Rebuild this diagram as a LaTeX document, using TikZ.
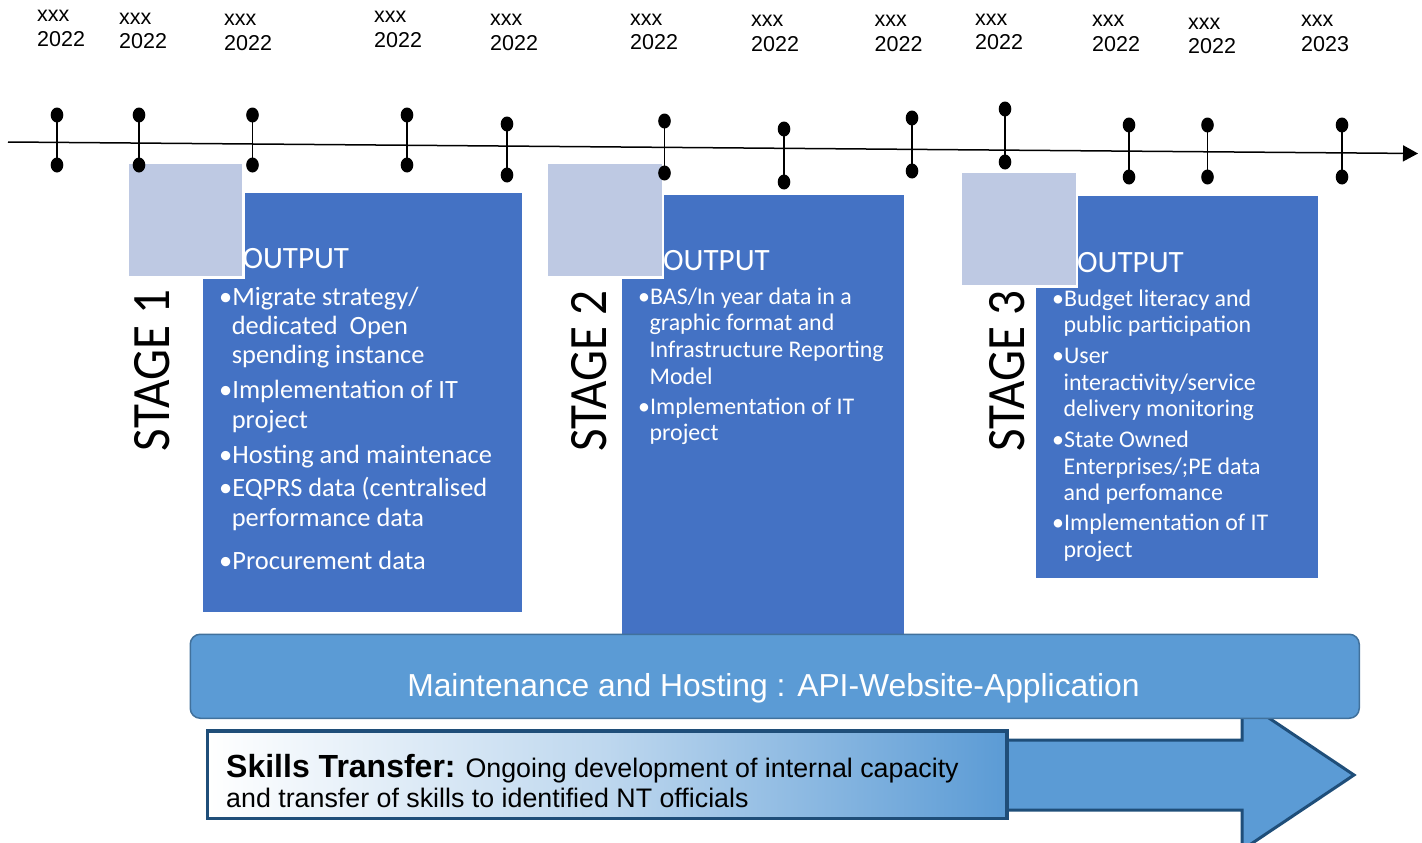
\documentclass[tikz,border=0pt]{standalone}
\usepackage{fontspec}
\setmainfont{Carlito}
\newfontfamily\arialfont{Liberation Sans}
\usetikzlibrary{arrows.meta}

\definecolor{outblue}{RGB}{68,114,196}
\definecolor{stagegrey}{RGB}{190,201,227}
\definecolor{hostblue}{RGB}{91,155,213}
\definecolor{hostedge}{RGB}{65,113,156}
\definecolor{skilledge}{RGB}{31,78,121}

% bullet and hanging indent for the output lists
\newcommand{\itm}{\makebox[0.5em][l]{•}}
\newcommand{\cnt}{\hspace*{0.48em}}

\tikzset{
  outbox/.style={fill=outblue, inner sep=0, anchor=north west},
  stagesq/.style={fill=stagegrey, draw=white, line width=2.7, minimum width=116, minimum height=115, inner sep=0, anchor=north west},
  stagelbl/.style={rotate=90, xscale=0.91, inner sep=0, font=\fontsize{54}{54}\selectfont},
  outtitle/.style={anchor=base west, inner sep=0, text=white, font=\fontsize{31}{31}\selectfont},
  outlist/.style={anchor=base west, inner sep=0, text=white},
  datelbl/.style={anchor=south west, inner sep=0, align=left, font=\arialfont\fontsize{21.5}{24.5}\selectfont},
  tickdot/.style={fill=black},
  hostbar/.style={anchor=north west, minimum width=1169, minimum height=84, rounded corners=10, fill=hostblue, draw=hostedge, line width=1.5},
  hostlbl/.style={anchor=base, inner sep=0, text=white, font=\arialfont\fontsize{31.8}{31.8}\selectfont},
  skillbox/.style={anchor=north west, minimum width=799.5, minimum height=87.5, inner sep=0, draw=skilledge, line width=3.5, left color=white, right color=hostblue, middle color=hostblue!40},
  skilltext/.style={anchor=base west, inner sep=0, font=\arialfont\fontsize{26.8}{30}\selectfont}
}

\begin{document}
\begin{tikzpicture}[x=1pt, y=-1pt]
  % \draw[help lines, color=gray!30, dashed] (0,0) grid (1422,843);
  \useasboundingbox (0,0) rectangle (1422,843);

  % output boxes
  \node[outbox, minimum width=319.5, minimum height=419] (out1) at (202.3,192.7) {};
  \node[outbox, minimum width=282, minimum height=441] (out2) at (622,194.3) {};
  \node[outbox, minimum width=282, minimum height=382] (out3) at (1036,196) {};

  \node[stagesq] (sq1) at (126,161.3) {};
  \node[stagesq] (sq2) at (545.7,161.3) {};
  \node[stagesq] (sq3) at (959.7,170.3) {};

  \node[stagelbl] (stage1) at (152.5,370.5) {STAGE 1};
  \node[stagelbl] (stage2) at (589,371) {STAGE 2};
  \node[stagelbl] (stage3) at (1007,371) {STAGE 3};

  \node[outtitle] (title1) at (242.3,268.3) {OUTPUT};
  \node[outtitle] (title2) at (663,270) {OUTPUT};
  \node[outtitle] (title3) at (1077,272.7) {OUTPUT};

  \node[outlist, font=\fontsize{26.4}{29.4}\selectfont] (list1) at (219,305) {%
    \begin{tabular}[t]{@{}l@{}}
      \itm Migrate strategy/\\
      \cnt dedicated\ \ Open\\
      \cnt spending instance\\[5.6pt]
      \itm Implementation of IT\\
      \cnt project\\[5.6pt]
      \itm Hosting and maintenace\\[4pt]
      \itm EQPRS data (centralised\\
      \cnt performance data\\[14pt]
      \itm Procurement data
    \end{tabular}};

  \node[outlist, font=\fontsize{23.9}{26.7}\selectfont] (list2) at (638,304) {%
    \begin{tabular}[t]{@{}l@{}}
      \itm BAS/In year data in a\\
      \cnt graphic format and\\
      \cnt Infrastructure Reporting\\
      \cnt Model\\[3.3pt]
      \itm Implementation of IT\\
      \cnt project
    \end{tabular}};

  \node[outlist, font=\fontsize{23.9}{26.7}\selectfont] (list3) at (1052,306) {%
    \begin{tabular}[t]{@{}l@{}}
      \itm Budget literacy and\\
      \cnt public participation\\[4pt]
      \itm User\\
      \cnt interactivity/service\\
      \cnt delivery monitoring\\[4pt]
      \itm State Owned\\
      \cnt Enterprises/;PE data\\
      \cnt and perfomance\\[3.3pt]
      \itm Implementation of IT\\
      \cnt project
    \end{tabular}};

  % time axis with milestones
  \coordinate (axisL) at (8,142);
  \coordinate (axisR) at (1418,153.5);
  \draw[line width=1.5, -{Triangle[length=15pt, width=16pt]}] (axisL) -- (axisR);

  \foreach \x/\ya/\yb [count=\i] in {57/115/165, 139/115/165, 252.5/115/165, 407/115/165,
      507/124/175, 664.5/121/173, 784/129/182, 912/118/171, 1005/109/162,
      1129/125/177, 1207.5/125/177, 1342/125/177}
  {
    \coordinate (top\i) at (\x,\ya);
    \coordinate (bot\i) at (\x,\yb);
    \draw[line width=1.4] (top\i) -- (bot\i);
    \fill[tickdot] (top\i) ellipse [x radius=6.3, y radius=7.5];
    \fill[tickdot] (bot\i) ellipse [x radius=6.3, y radius=7.5];
  }

  \foreach \x/\y/\yr [count=\i] in {37/46.7/2022, 119/49.3/2022, 224/50.7/2022, 374/47.7/2022,
      490/50.7/2022, 630/50/2022, 751/51.7/2022, 874.5/51.7/2022, 975/50/2022,
      1092/51.7/2022, 1188/54/2022, 1301/51.7/2023}
    \node[datelbl] (date\i) at (\x,\y) {xxx\\\yr};

  % skills transfer arrow
  \filldraw[fill=hostblue, draw=skilledge, line width=3] (300,740) -- (1242,740) -- (1242,700)
    -- (1354,775) -- (1242,850) -- (1242,810) -- (300,810) -- cycle;

  \node[skillbox] (skills) at (205.5,729) {};
  \node[skilltext] (skillsnote) at (226,777) {%
    \begin{tabular}[t]{@{}l@{}}
      {\fontsize{32}{32}\selectfont\bfseries Skills Transfer:} Ongoing development of internal capacity\\
      and transfer of skills to identified NT officials
    \end{tabular}};

  \node[hostbar] (host) at (189.5,633.5) {};
  \node[hostlbl] (hostname) at (773.5,696) {Maintenance and Hosting : API-Website-Application};
\end{tikzpicture}
\end{document}
